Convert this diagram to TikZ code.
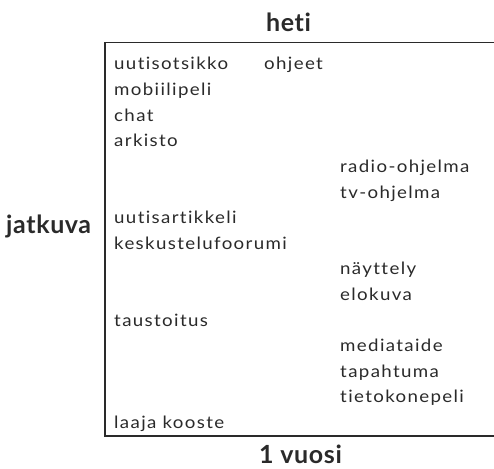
\documentclass[tikz,border=0pt]{standalone}
\usepackage{fontspec}
\setmainfont{Lato}[Ligatures=NoCommon]
\newfontfamily\itemfont[FakeStretch=1.1,LetterSpace=8,Ligatures=NoCommon]{Lato}
\newfontfamily\axisfont[LetterSpace=2.5,Ligatures=NoCommon]{Lato}
\definecolor{txt}{HTML}{2A2A2A}
\begin{document}
\begin{tikzpicture}[x=1pt,y=-1pt,
  item/.style={anchor=base west,inner sep=0pt,text=txt,font=\itemfont\fontsize{17}{17}\selectfont},
  axis/.style={inner sep=0pt,text=txt,font=\axisfont\fontsize{25}{25}\selectfont\bfseries},
  frame/.style={draw=txt,line width=1.3pt}]
\useasboundingbox (0,0) rectangle (494,468);
\coordinate (tr) at (494,42.5);
\coordinate (tl) at (105,42.5);
\coordinate (bl) at (105,436);
\coordinate (br) at (494,436);
\draw[frame] (tr) -- (tl) -- (bl) -- (br);
\node[axis,anchor=base] (heti) at (288.5,31.5) {heti};
\node[axis,anchor=base west] (jatkuva) at (6,233.5) {jatkuva};
\node[axis,anchor=base] (vuosi) at (300.5,463) {1 vuosi};
\node[item] (n1) at (114,70) {uutisotsikko};
\node[item] (n2) at (264,70) {ohjeet};
\node[item] (n3) at (114,95.6) {mobiilipeli};
\node[item] (n4) at (114,121.2) {chat};
\node[item] (n5) at (114,146.8) {arkisto};
\node[item] (n6) at (340,172.4) {radio-ohjelma};
\node[item] (n7) at (340,198) {tv-ohjelma};
\node[item] (n8) at (114,223.6) {uutisartikkeli};
\node[item] (n9) at (114,249.2) {keskustelufoorumi};
\node[item] (n10) at (340,274.8) {näyttely};
\node[item] (n11) at (340,300.4) {elokuva};
\node[item] (n12) at (114,326) {taustoitus};
\node[item] (n13) at (340,351.6) {mediataide};
\node[item] (n14) at (340,377.2) {tapahtuma};
\node[item] (n15) at (340,402.8) {tietokonepeli};
\node[item] (n16) at (114,428.4) {laaja\ kooste};
\end{tikzpicture}
\end{document}
